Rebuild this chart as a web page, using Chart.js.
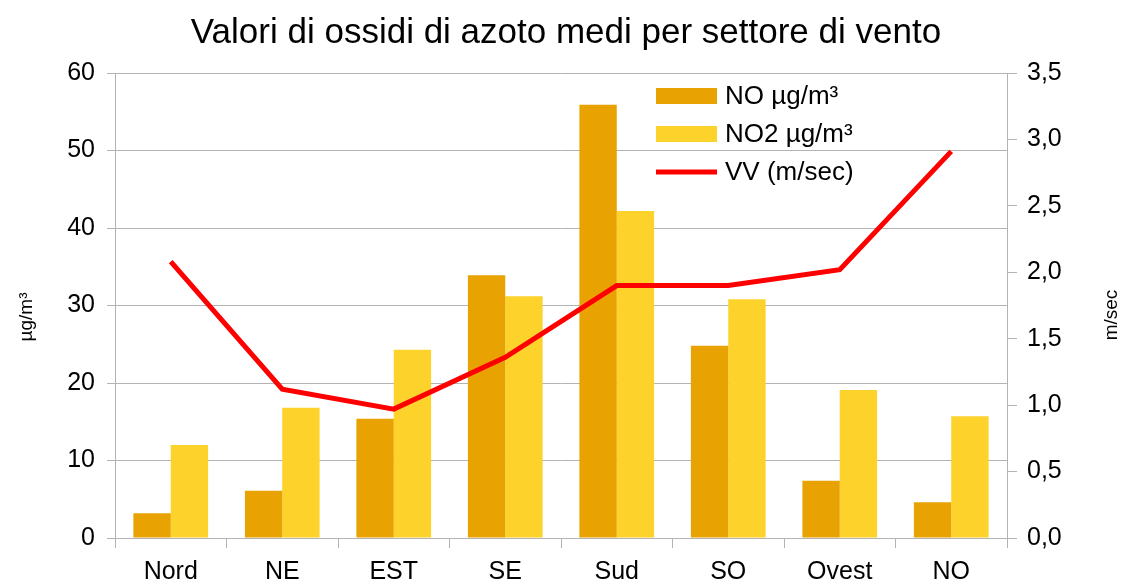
<!DOCTYPE html>
<html lang="it">
<head>
<meta charset="utf-8">
<title>Ossidi di azoto per settore di vento</title>
<script src="https://cdn.jsdelivr.net/npm/chart.js@4/dist/chart.umd.min.js"></script>
<style>
  html, body { margin: 0; padding: 0; background: #fff; }
  #wrap { position: relative; width: 1122px; height: 583px; }
</style>
</head>
<body>
<div id="wrap"><canvas id="chart-nox" width="1122" height="583"></canvas></div>
<script>
  'use strict';

  // wind sectors and the averages measured in each one
  var SECTORS = ['Nord', 'NE', 'EST', 'SE', 'Sud', 'SO', 'Ovest', 'NO'];
  var NO_VALUES  = [3.2, 6.1, 15.4, 33.9, 55.9, 24.8, 7.4, 4.6];
  var NO2_VALUES = [12.0, 16.8, 24.3, 31.2, 42.2, 30.8, 19.1, 15.7];
  var VV_VALUES  = [2.08, 1.12, 0.97, 1.36, 1.90, 1.90, 2.02, 2.91];

  var TITLE = 'Valori di ossidi di azoto medi per settore di vento';
  var Y_TITLE = 'µg/m³';
  var Y1_TITLE = 'm/sec';
  var FONT = '"Liberation Sans", Arial, sans-serif';
  var GRID = '#b3b3b3';

  function fmtComma(v) {
    return Number(v).toFixed(1).replace('.', ',');
  }

  function vText(ctx, text, x, y) {
    ctx.save();
    ctx.translate(x, y);
    ctx.rotate(-Math.PI / 2);
    ctx.fillText(text, 0, 0);
    ctx.restore();
  }

  // title, axis titles and the in-plot legend are painted by hand
  var decorations = {
    id: 'decorations',
    afterDraw: function (chart) {
      var ctx = chart.ctx;
      ctx.save();
      ctx.fillStyle = '#000';
      ctx.textAlign = 'center';
      ctx.textBaseline = 'middle';
      ctx.font = '35px ' + FONT;
      ctx.fillText(TITLE, 566, 33);

      ctx.font = '19px ' + FONT;
      vText(ctx, Y_TITLE, 27, 317);
      vText(ctx, Y1_TITLE, 1112, 315);

      var ds = chart.data.datasets;
      var x0 = 656, rows = [96, 134, 172];
      ctx.font = '26px ' + FONT;
      ctx.textAlign = 'left';
      ds.forEach(function (d, i) {
        var y = rows[i];
        if (d.type === 'line') {
          ctx.fillStyle = d.borderColor;
          ctx.fillRect(x0, y - 2.5, 61, 5);
        } else {
          ctx.fillStyle = d.backgroundColor;
          ctx.fillRect(x0, y - 8, 61, 16);
        }
        ctx.fillStyle = '#000';
        ctx.fillText(d.label, 725, y + 1);
      });
      ctx.restore();
    }
  };

  new Chart(document.getElementById('chart-nox'), {
    type: 'bar',
    data: {
      labels: SECTORS,
      datasets: [
        {
          label: 'NO µg/m³',
          data: NO_VALUES,
          backgroundColor: '#e8a202',
          yAxisID: 'y',
          order: 2,
          categoryPercentage: 0.67,
          barPercentage: 1.0
        },
        {
          label: 'NO2 µg/m³',
          data: NO2_VALUES,
          backgroundColor: '#fdd22b',
          yAxisID: 'y',
          order: 2,
          categoryPercentage: 0.67,
          barPercentage: 1.0
        },
        {
          type: 'line',
          label: 'VV (m/sec)',
          data: VV_VALUES,
          borderColor: '#ff0000',
          backgroundColor: '#ff0000',
          borderWidth: 5,
          pointRadius: 0,
          tension: 0,
          yAxisID: 'y1',
          order: 1
        }
      ]
    },
    options: {
      responsive: false,
      maintainAspectRatio: false,
      animation: false,
      devicePixelRatio: 1,
      layout: { padding: { top: 73, left: 0, right: 0, bottom: 0 } },
      plugins: {
        legend: { display: false },
        title: { display: false },
        tooltip: { enabled: false }
      },
      scales: {
        x: {
          offset: true,
          grid: { display: true, drawOnChartArea: false, offset: true, color: GRID, tickLength: 10, lineWidth: 1 },
          border: { color: GRID },
          ticks: { color: '#000', font: { family: FONT, size: 25 }, padding: 9, maxRotation: 0 },
          afterFit: function (s) { s.height = 45; }
        },
        y: {
          position: 'left',
          min: 0,
          max: 60,
          ticks: { stepSize: 10, color: '#000', font: { family: FONT, size: 25 }, padding: 12 },
          grid: { color: GRID, tickLength: 8 },
          border: { color: GRID },
          afterFit: function (s) { s.width = 115; }
        },
        y1: {
          position: 'right',
          min: 0,
          max: 3.5,
          ticks: {
            stepSize: 0.5,
            color: '#000',
            font: { family: FONT, size: 25 },
            padding: 10,
            callback: function (v) { return fmtComma(v); }
          },
          grid: { drawOnChartArea: false, color: GRID, tickLength: 10 },
          border: { color: GRID },
          afterFit: function (s) { s.width = 115; }
        }
      }
    },
    plugins: [decorations]
  });
</script>
</body>
</html>
